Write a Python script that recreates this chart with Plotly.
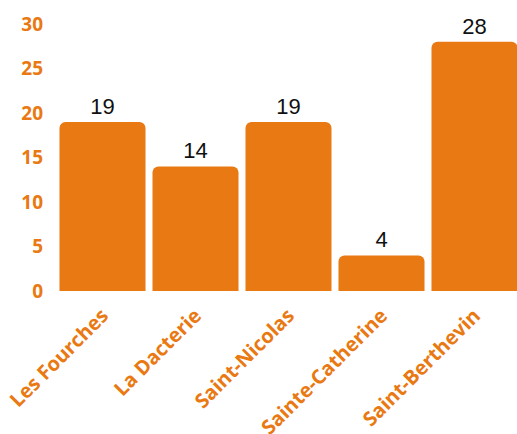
import plotly.graph_objects as go

# Quartiers and their counts
quartiers = ["Les Fourches", "La Dacterie", "Saint-Nicolas", "Sainte-Catherine", "Saint-Berthevin"]
valeurs = [19, 14, 19, 4, 28]
y_ticks = [0, 5, 10, 15, 20, 25, 30]

orange = "#E97912"

fig = go.Figure(
    go.Bar(
        x=quartiers,
        y=valeurs,
        marker=dict(color=orange, line=dict(width=0)),
        text=[str(v) for v in valeurs],
        textposition="outside",
        textfont=dict(family="Liberation Sans, Arial, sans-serif", size=22, color="#111111"),
        cliponaxis=False,
    )
)

fig.update_layout(
    width=517,
    height=434,
    margin=dict(l=56, r=0, t=24, b=143),
    paper_bgcolor="white",
    plot_bgcolor="white",
    bargap=0.075,
    barcornerradius=6,
    showlegend=False,
)

fig.update_xaxes(
    range=[-0.5, -0.5 + 461 / 93],
    tickangle=-45,
    tickfont=dict(family="Open Sans, sans-serif", size=20, color=orange, weight="bold"),
    showgrid=False,
    zeroline=False,
    showline=False,
    ticks="",
    ticklabelstandoff=8,
    automargin=False,
)

fig.update_yaxes(
    range=[0, 30],
    tickvals=y_ticks,
    tickfont=dict(family="Open Sans, sans-serif", size=19, color=orange, weight="bold"),
    showgrid=False,
    zeroline=False,
    showline=False,
    ticks="",
    ticklabelstandoff=12,
    automargin=False,
)

fig.write_html("out.html")
